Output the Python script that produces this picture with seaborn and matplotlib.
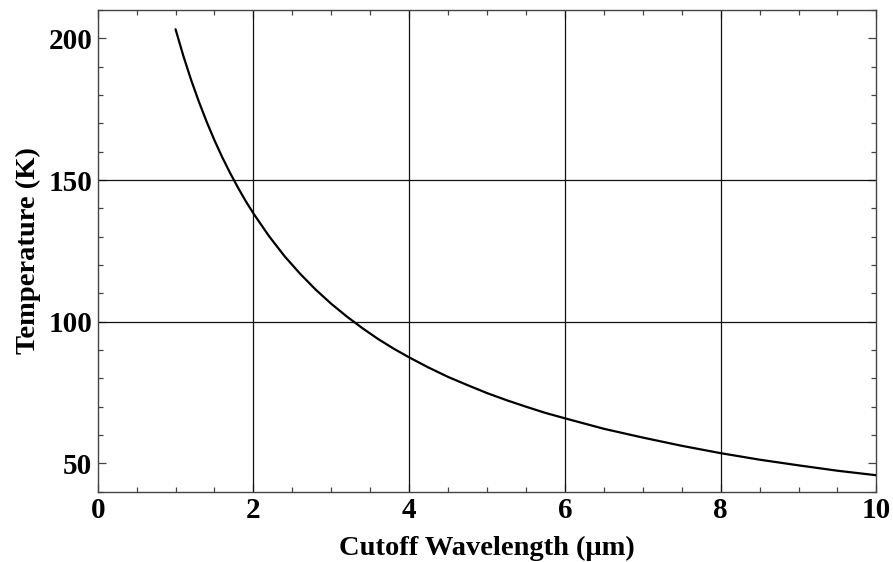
import matplotlib
matplotlib.use("Agg")
import matplotlib.pyplot as plt
import seaborn as sns
import pandas as pd
from matplotlib.ticker import MultipleLocator

# Values
wavelength = [1.0, 1.1, 1.2, 1.3, 1.4, 1.5, 1.6, 1.7, 1.8, 1.9, 2.0,
              2.2, 2.4, 2.6, 2.8, 3.0, 3.2, 3.4, 3.6, 3.8, 4.0,
              4.25, 4.5, 4.75, 5.0, 5.25, 5.5, 5.75, 6.0,
              6.5, 7.0, 7.5, 8.0, 8.5, 9.0, 9.5, 10.0]
temperature = [203.2, 193.8, 185.3, 177.6, 170.5, 164.0, 158.0, 152.5, 147.4,
               142.6, 138.2, 130.2, 123.1, 116.9, 111.3, 106.3, 101.8, 97.7,
               93.9, 90.5, 87.4, 83.8, 80.5, 77.6, 74.8, 72.3, 70.0, 67.8,
               65.9, 62.2, 59.1, 56.2, 53.6, 51.3, 49.3, 47.4, 45.8]

x_ticks = [0, 2, 4, 6, 8, 10]
y_ticks = [50, 100, 150, 200]
grid_x = [2, 4, 6, 8]
grid_y = [100, 150]

sns.set_theme(style="ticks")
plt.rcParams["font.family"] = ["Liberation Serif", "DejaVu Serif"]
plt.rcParams["text.color"] = "black"
plt.rcParams["axes.labelcolor"] = "black"
plt.rcParams["xtick.labelcolor"] = "black"
plt.rcParams["ytick.labelcolor"] = "black"

df = pd.DataFrame({"wavelength": wavelength, "temperature": temperature})

fig = plt.figure(figsize=(8.93, 5.62), dpi=100)
ax = fig.add_axes([0.1094, 0.1251, 0.8720, 0.8571])

for gx in grid_x:
    ax.axvline(gx, color="#111111", lw=0.9, zorder=1)
for gy in grid_y:
    ax.axhline(gy, color="#111111", lw=0.9, zorder=1)

sns.lineplot(data=df, x="wavelength", y="temperature", color="black",
             lw=1.6, ax=ax, zorder=3)

ax.set_xlim(0, 10)
ax.set_ylim(40, 210)
ax.set_xticks(x_ticks)
ax.set_yticks(y_ticks)
ax.xaxis.set_minor_locator(MultipleLocator(0.5))
ax.yaxis.set_minor_locator(MultipleLocator(10))
ax.tick_params(which="both", direction="in", top=True, right=True,
               color="#444444", width=0.9)
ax.tick_params(which="major", length=6, pad=4, labelsize=21,
               labelcolor="black")
ax.tick_params(which="minor", length=3.5)
for lab in ax.get_xticklabels() + ax.get_yticklabels():
    lab.set_fontweight("bold")

for sp in ax.spines.values():
    sp.set_color("#444444")
    sp.set_linewidth(1.0)

ax.set_xlabel("Cutoff Wavelength (\u03bcm)", fontsize=20.5, fontweight="bold",
              labelpad=8, color="black")
ax.set_ylabel("Temperature (K)", fontsize=20.5, fontweight="bold",
              labelpad=5, color="black")

fig.savefig("out.png", dpi=100)
